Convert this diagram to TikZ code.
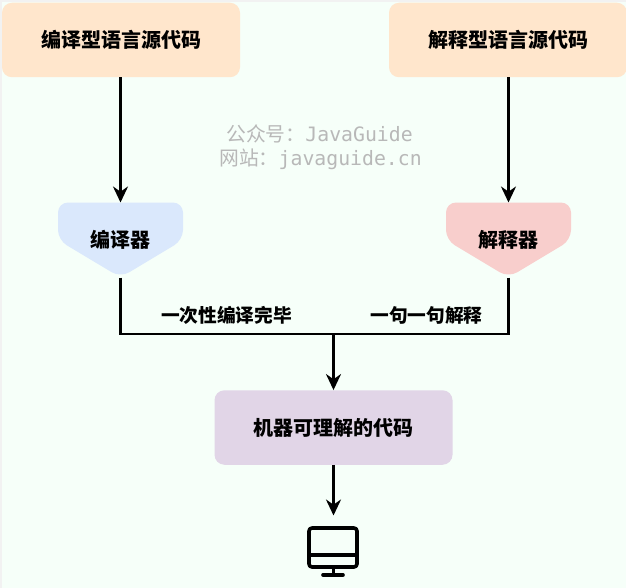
\documentclass[tikz,border=0pt]{standalone}
\usepackage{fontspec}
\usepackage{xcolor}
\usepackage{tikz}
\usetikzlibrary{arrows.meta,positioning,calc,backgrounds}
\newfontfamily\cjk{Noto Sans CJK SC}
\newfontfamily\wmmono{DejaVu Sans Mono}
\definecolor{pagebg}{HTML}{F6FFF9}
\definecolor{pageedge}{HTML}{F2F2F2}
\definecolor{srcfill}{HTML}{FFE6CC}
\definecolor{compfill}{HTML}{DAE8FC}
\definecolor{intfill}{HTML}{F8CECC}
\definecolor{codefill}{HTML}{E1D5E7}
\definecolor{wmgray}{HTML}{B8B8B8}
\newcommand{\offpage}[2]{\begin{pgfonlayer}{background}
    \fill[#2, rounded corners=10pt] (#1.north west) -- (#1.north east) -- (#1.east)
      -- (#1.south) -- (#1.west) -- cycle;
  \end{pgfonlayer}}
\tikzset{
  box/.style={rectangle, rounded corners=10pt, fill=#1, align=center, inner sep=0pt,
              font=\cjk\bfseries\fontsize{20}{24}\selectfont,
              minimum width=238pt, minimum height=74.5pt},
  pagebox/.style={rectangle, align=center, inner sep=0pt, outer sep=0pt,
                  font=\cjk\bfseries\fontsize{20}{24}\selectfont,
                  minimum width=125pt, minimum height=75pt},
  edgelabel/.style={font=\cjk\bfseries\fontsize{18.7}{22}\selectfont, inner sep=0pt},
  wmark/.style={text=wmgray, inner sep=0pt, font=\fontsize{19.8}{24}\selectfont},
  arr/.style={-{Stealth[length=16pt, width=15pt]}, line width=2.5pt, black},
  wire/.style={line width=2.5pt, black},
  monline/.style={line width=3.6pt, black, line cap=round, line join=round},
}
\begin{document}
\begin{tikzpicture}[x=1pt, y=-1pt]
    \useasboundingbox (0,0) rectangle (626,588);
    \begin{pgfonlayer}{background}
      \fill[pageedge] (0,0) rectangle (626,588);
      \fill[pagebg] (1.5,2.5) rectangle (626,588);
    \end{pgfonlayer}
    \node[box=srcfill] (compsrc) at (121,40) {编译型语言源代码};
    \node[box=srcfill] (intsrc) at (508,40) {解释型语言源代码};
    \node[pagebox] (compiler) at (120.5,240) {编译器};
    \node[pagebox] (interp) at (508.5,240) {解释器};
    \offpage{compiler}{compfill}
    \offpage{interp}{intfill}
    \node[box=codefill] (code) at (333.5,427.5) {机器可理解的代码};
    \node[edgelabel] (oncelabel) at (226.5,315) {一次性编译完毕};
    \node[edgelabel] (linelabel) at (426.5,315) {一句一句解释};
    \node[wmark] (wmone) at (319.5,134) {{\cjk 公众号：}{\wmmono JavaGuide}};
    \node[wmark] (wmtwo) at (320.5,159) {{\cjk 网站：}{\wmmono javaguide.cn}};
    \coordinate (merge) at (333.5,334);
    \coordinate (monitortop) at (333.5,515.5);
    \draw[arr] (compsrc.south -| compiler) -- (compiler);
    \draw[arr] (intsrc.south -| interp) -- (interp);
    \draw[wire] (compiler.south) |- (merge);
    \draw[wire] (interp.south) |- (merge);
    \draw[arr] (merge) -- (code);
    \draw[arr] (code) -- (monitortop);
    % monitor
    \draw[monline, rounded corners=3pt] (309,528) rectangle (357,567);
    \draw[monline] (309,555) -- (357,555);
    \draw[monline, line width=3pt] (333,567) -- (333,574);
    \draw[monline] (323,575) -- (343,575);
  \end{tikzpicture}
\end{document}
